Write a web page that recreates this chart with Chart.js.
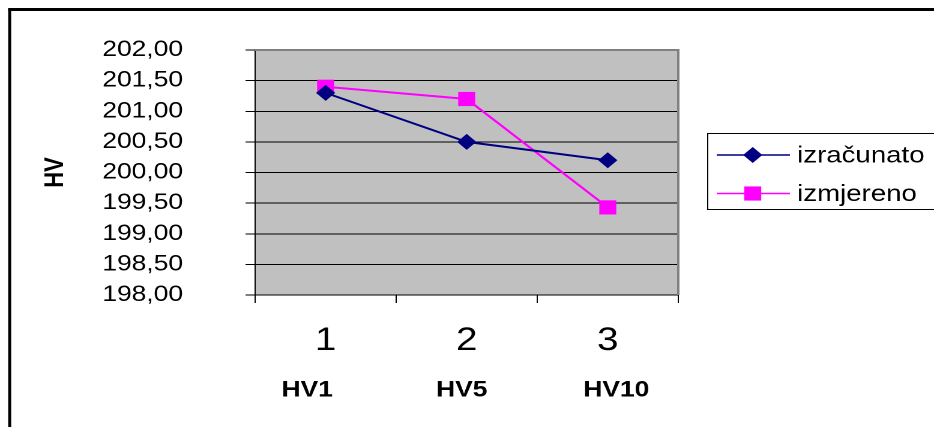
<!DOCTYPE html>
<html>
<head>
<meta charset="utf-8">
<script src="https://cdn.jsdelivr.net/npm/chart.js"></script>
<style>
  html, body { margin: 0; padding: 0; background: #fff; overflow: hidden; }
  #wrap { width: 934px; height: 427px; overflow: hidden; }
  #c { display: block; transform-origin: 0 0; }
</style>
</head>
<body>
<div id="wrap"><canvas id="c"></canvas></div>
<script>
// ---- data ----
const categories = ['1', '2', '3'];
const hvLabels = ['HV1', 'HV5', 'HV10'];
const izracunato = [201.30, 200.50, 200.20];
const izmjereno = [201.40, 201.20, 199.43];
const yTicks = [198.0, 198.5, 199.0, 199.5, 200.0, 200.5, 201.0, 201.5, 202.0];
const seriesNames = ['izračunato', 'izmjereno'];
const yTitle = 'HV';

// ---- layout (the reference is horizontally stretched) ----
const W = 778, H = 427, SX = 934 / W;
const FONT = '"Liberation Sans", Arial, sans-serif';
const canvas = document.getElementById('c');
canvas.width = W; canvas.height = H;
canvas.style.width = W + 'px'; canvas.style.height = H + 'px';
canvas.style.transform = 'scaleX(' + SX + ')';

const fmt = v => Number(v).toFixed(2).replace('.', ',');

const bgPlugin = {
  id: 'bg',
  beforeDraw(chart) {
    const {ctx, chartArea: a} = chart;
    ctx.save();
    ctx.fillStyle = '#fff';
    ctx.fillRect(0, 0, W, H);
    // outer frame
    ctx.fillStyle = '#000';
    ctx.fillRect(6.8, 8, W + 20, 3);
    ctx.fillRect(6.8, 8, 2.5, H + 20);
    // plot background
    ctx.fillStyle = '#c0c0c0';
    ctx.fillRect(a.left, a.top, a.right - a.left, a.bottom - a.top);
    ctx.restore();
  },
  beforeDatasetsDraw(chart) {
    const {ctx, chartArea: a} = chart;
    ctx.save();
    ctx.strokeStyle = '#808080';
    ctx.lineWidth = 2;
    ctx.beginPath();
    ctx.moveTo(a.left, a.top);
    ctx.lineTo(a.right, a.top);
    ctx.lineTo(a.right, a.bottom);
    ctx.stroke();
    ctx.restore();
  }
};

function drawMarker(ctx, style, x, y, r, color) {
  ctx.fillStyle = color;
  ctx.beginPath();
  if (style === 'rectRot') {
    ctx.moveTo(x, y - r); ctx.lineTo(x + r, y); ctx.lineTo(x, y + r); ctx.lineTo(x - r, y);
  } else {
    const s = Math.SQRT1_2 * r;
    ctx.rect(x - s, y - s, 2 * s, 2 * s);
  }
  ctx.closePath();
  ctx.fill();
}

const legendPlugin = {
  id: 'boxLegend',
  afterDraw(chart) {
    const ctx = chart.ctx;
    ctx.save();
    ctx.strokeStyle = '#000';
    ctx.lineWidth = 1;
    ctx.strokeRect(589.5, 133.5, 260, 76);
    chart.data.datasets.forEach((ds, i) => {
      const y = 155 + i * 38.5;
      ctx.strokeStyle = ds.borderColor;
      ctx.lineWidth = 1.5;
      ctx.beginPath();
      ctx.moveTo(597, y); ctx.lineTo(658, y);
      ctx.stroke();
      drawMarker(ctx, ds.pointStyle, 627, y, ds.pointRadius, ds.backgroundColor);
      ctx.fillStyle = '#000';
      ctx.font = '23px ' + FONT;
      ctx.textBaseline = 'middle';
      ctx.textAlign = 'left';
      ctx.fillText(ds.label, 664, y + 1);
    });
    ctx.restore();
  }
};

new Chart(canvas, {
  type: 'line',
  data: {
    labels: categories,
    datasets: [
      {
        label: seriesNames[0],
        data: izracunato,
        borderColor: '#000080',
        backgroundColor: '#000080',
        borderWidth: 2,
        pointStyle: 'rectRot',
        pointRadius: 8,
        pointBorderWidth: 0,
        tension: 0
      },
      {
        label: seriesNames[1],
        data: izmjereno,
        borderColor: '#ff00ff',
        backgroundColor: '#ff00ff',
        borderWidth: 2,
        pointStyle: 'rect',
        pointRadius: 10,
        pointBorderWidth: 0,
        tension: 0
      }
    ]
  },
  options: {
    responsive: false,
    animation: false,
    devicePixelRatio: 2,
    layout: { padding: { left: 0, top: 50, right: W - 565, bottom: 25 } },
    plugins: { legend: { display: false }, tooltip: { enabled: false } },
    scales: {
      x: {
        type: 'category',
        position: 'bottom',
        weight: 0,
        offset: true,
        grid: { display: true, offset: true, drawOnChartArea: false, drawTicks: true, tickLength: 8, color: '#000', lineWidth: 1 },
        border: { display: true, color: '#000', width: 1 },
        ticks: { color: '#000', font: { family: FONT, size: 32 }, padding: 19, maxRotation: 0, autoSkip: false },
        afterFit(s) { s.height = 67; }
      },
      x2: {
        type: 'linear',
        position: 'bottom',
        weight: 1,
        min: -0.337,
        max: 2.401,
        afterBuildTicks(s) { s.ticks = hvLabels.map((_, i) => ({ value: i })); },
        grid: { display: false, drawTicks: false },
        border: { display: false },
        ticks: { color: '#000', font: { family: FONT, size: 22, weight: 'bold' }, padding: 15, maxRotation: 0, autoSkip: false, callback: v => hvLabels[v] },
        afterFit(s) { s.height = 40; }
      },
      y: {
        type: 'linear',
        position: 'left',
        min: 198,
        max: 202,
        afterBuildTicks(s) { s.ticks = yTicks.map(v => ({ value: v })); },
        grid: { color: '#000', lineWidth: 1, drawTicks: true, tickLength: 8 },
        border: { display: true, color: '#000', width: 1 },
        ticks: { color: '#000', font: { family: FONT, size: 22 }, padding: 52, autoSkip: false, callback: v => fmt(v) },
        title: { display: true, text: yTitle, color: '#000', font: { family: FONT, size: 22, weight: 'bold' }, padding: { top: 33, bottom: 0 } },
        afterFit(s) { s.width = 212.5; s.paddingTop = 14; s.paddingBottom = 14; }
      }
    }
  },
  plugins: [bgPlugin, legendPlugin]
});
</script>
</body>
</html>
